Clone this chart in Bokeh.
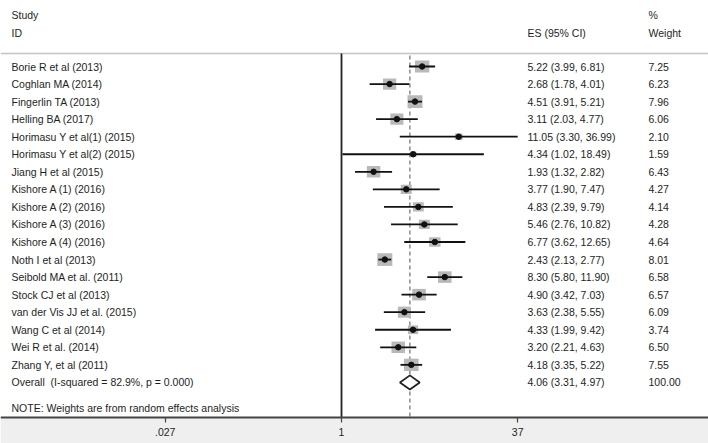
import numpy as np
from bokeh.plotting import figure
from bokeh.models import Range1d, FixedTicker, CustomJSTickFormatter, LinearScale
from bokeh.core.properties import value
from bokeh.embed import file_html
from bokeh.resources import INLINE

# ---------------- data ----------------
studies = ["Borie R et al (2013)", "Coghlan MA (2014)", "Fingerlin TA (2013)",
           "Helling BA (2017)", "Horimasu Y et al(1) (2015)", "Horimasu Y et al(2) (2015)",
           "Jiang H et al (2015)", "Kishore A (1) (2016)", "Kishore A (2) (2016)",
           "Kishore A (3) (2016)", "Kishore A (4) (2016)", "Noth I et al (2013)",
           "Seibold MA et al. (2011)", "Stock CJ et al (2013)", "van der Vis JJ et al. (2015)",
           "Wang C et al (2014)", "Wei R et al. (2014)", "Zhang Y, et al (2011)"]
es = [5.22, 2.68, 4.51, 3.11, 11.05, 4.34, 1.93, 3.77, 4.83, 5.46, 6.77, 2.43,
      8.30, 4.90, 3.63, 4.33, 3.20, 4.18]
ci_lo = [3.99, 1.78, 3.91, 2.03, 3.30, 1.02, 1.32, 1.90, 2.39, 2.76, 3.62, 2.13,
         5.80, 3.42, 2.38, 1.99, 2.21, 3.35]
ci_hi = [6.81, 4.01, 5.21, 4.77, 36.99, 18.49, 2.82, 7.47, 9.79, 10.82, 12.65, 2.77,
         11.90, 7.03, 5.55, 9.42, 4.63, 5.22]
weights = [7.25, 6.23, 7.96, 6.06, 2.10, 1.59, 6.43, 4.27, 4.14, 4.28, 4.64, 8.01,
           6.58, 6.57, 6.09, 3.74, 6.50, 7.55]

overall_label = "Overall\u00a0 (I-squared = 82.9%, p = 0.000)"
overall_es = 4.06
overall_lo = 3.31
overall_hi = 4.97
overall_weight = 100.00

note_text = "NOTE: Weights are from random effects analysis"
tick_vals = [0.027, 1, 37]
tick_labels = [".027", "1", "37"]

# ---------------- layout constants ----------------
FONT = value("Liberation Sans")
FS = "10.5px"
TXT = "#1e1e1e"
X_NULL, X_PER_LN = 341.0, 48.8
ROW0, ROW_STEP = 66.0, 17.55
LEFT, RIGHT, TOP, BOTTOM, AXIS_Y = 0.0, 708.0, 0.0, 443.0, 417.0

n = len(studies)
rows = list(range(n))
overall_row = n

x_start = float(np.exp((LEFT - X_NULL) / X_PER_LN))
x_end = float(np.exp((RIGHT - X_NULL) / X_PER_LN))
y_bottom = (BOTTOM - ROW0) / ROW_STEP
y_top = (TOP - ROW0) / ROW_STEP
axis_row = (AXIS_Y - ROW0) / ROW_STEP

p = figure(width=708, height=443, x_axis_type="log",
           x_range=Range1d(x_start, x_end), y_range=Range1d(y_bottom, y_top),
           output_backend="svg", toolbar_location=None,
           min_border_left=0, min_border_right=0, min_border_top=0, min_border_bottom=0,
           y_axis_location=None, background_fill_color="white",
           border_fill_color="white", outline_line_color=None)
p.extra_x_ranges = {"px": Range1d(LEFT, RIGHT)}
p.extra_x_scales = {"px": LinearScale()}
p.extra_y_ranges = {"py": Range1d(BOTTOM, TOP)}
p.extra_y_scales = {"py": LinearScale()}
p.grid.visible = False

# grey band under the axis
p.quad(left=[LEFT], right=[RIGHT], bottom=[BOTTOM], top=[AXIS_Y],
       x_range_name="px", y_range_name="py", fill_color="#efefef", line_color=None)

# header line
p.segment(x0=[LEFT], x1=[RIGHT], y0=[53], y1=[53], x_range_name="px", y_range_name="py",
          line_color="#c4c4c4", line_width=1.5)

# overall dashed line and null line
p.segment(x0=[overall_es], x1=[overall_es], y0=[55], y1=[AXIS_Y], y_range_name="py",
          line_color="#7a7a7a", line_width=1.3, line_dash="4 3")
p.segment(x0=[1], x1=[1], y0=[53], y1=[AXIS_Y], y_range_name="py",
          line_color="#222222", line_width=1.8)

# weight boxes
bw = [5.3 * np.sqrt(w) for w in weights]
bh = [4.5 * np.sqrt(w) for w in weights]
p.rect(x=es, y=rows, width=bw, height=bh, width_units="screen", height_units="screen",
       fill_color="#b9b9b9", line_color=None)
# CIs
p.segment(x0=ci_lo, x1=ci_hi, y0=rows, y1=rows, line_color="#111111", line_width=1.8)
# point estimates
p.scatter(x=es, y=rows, size=5.5, fill_color="#111111", line_color="#111111")

# overall diamond
p.patch(x=[overall_lo, overall_es, overall_hi, overall_es],
        y=[overall_row, overall_row - 0.4, overall_row, overall_row + 0.4],
        fill_color="white", line_color="#222222", line_width=1.8)

# texts
es_txt = [f"{e:.2f} ({l:.2f}, {h:.2f})" for e, l, h in zip(es, ci_lo, ci_hi)]
w_txt = [f"{w:.2f}" for w in weights]
common = dict(text_font=FONT, text_font_size=FS, text_color=TXT, text_baseline="middle")
p.text(x=11, y=rows + [overall_row], text=studies + [overall_label], x_range_name="px", **common)
p.text(x=527, y=rows + [overall_row],
       text=es_txt + [f"{overall_es:.2f} ({overall_lo:.2f}, {overall_hi:.2f})"],
       x_range_name="px", **common)
p.text(x=648, y=rows + [overall_row], text=w_txt + [f"{overall_weight:.2f}"],
       x_range_name="px", **common)

# header texts
p.text(x=[11, 11, 527, 648, 648], y=[14, 32, 32, 14, 32],
       text=["Study", "ID", "ES (95% CI)", "%", "Weight"],
       x_range_name="px", y_range_name="py", **common)
p.text(x=[11], y=[407], text=[note_text], x_range_name="px", y_range_name="py", **common)

# axis
ax = p.xaxis[0]
ax.fixed_location = axis_row
ax.ticker = FixedTicker(ticks=tick_vals, minor_ticks=[])
ax.formatter = CustomJSTickFormatter(args=dict(vals=tick_vals, labs=tick_labels), code="""
for (let i = 0; i < vals.length; i++) {
  if (Math.abs(vals[i] - tick) < 1e-6 * Math.max(1, vals[i])) return labs[i];
}
return '';
""")
ax.axis_line_color = "#444444"
ax.axis_line_width = 2
ax.major_tick_line_color = "#444444"
ax.major_tick_line_width = 1.2
ax.major_tick_out = 5
ax.major_tick_in = 0
ax.minor_tick_out = 0
ax.minor_tick_in = 0
ax.major_label_standoff = 5
ax.major_label_text_font = "Liberation Sans"
ax.major_label_text_font_size = FS
ax.major_label_text_color = TXT

open("out.html", "w").write(file_html(p, INLINE))
